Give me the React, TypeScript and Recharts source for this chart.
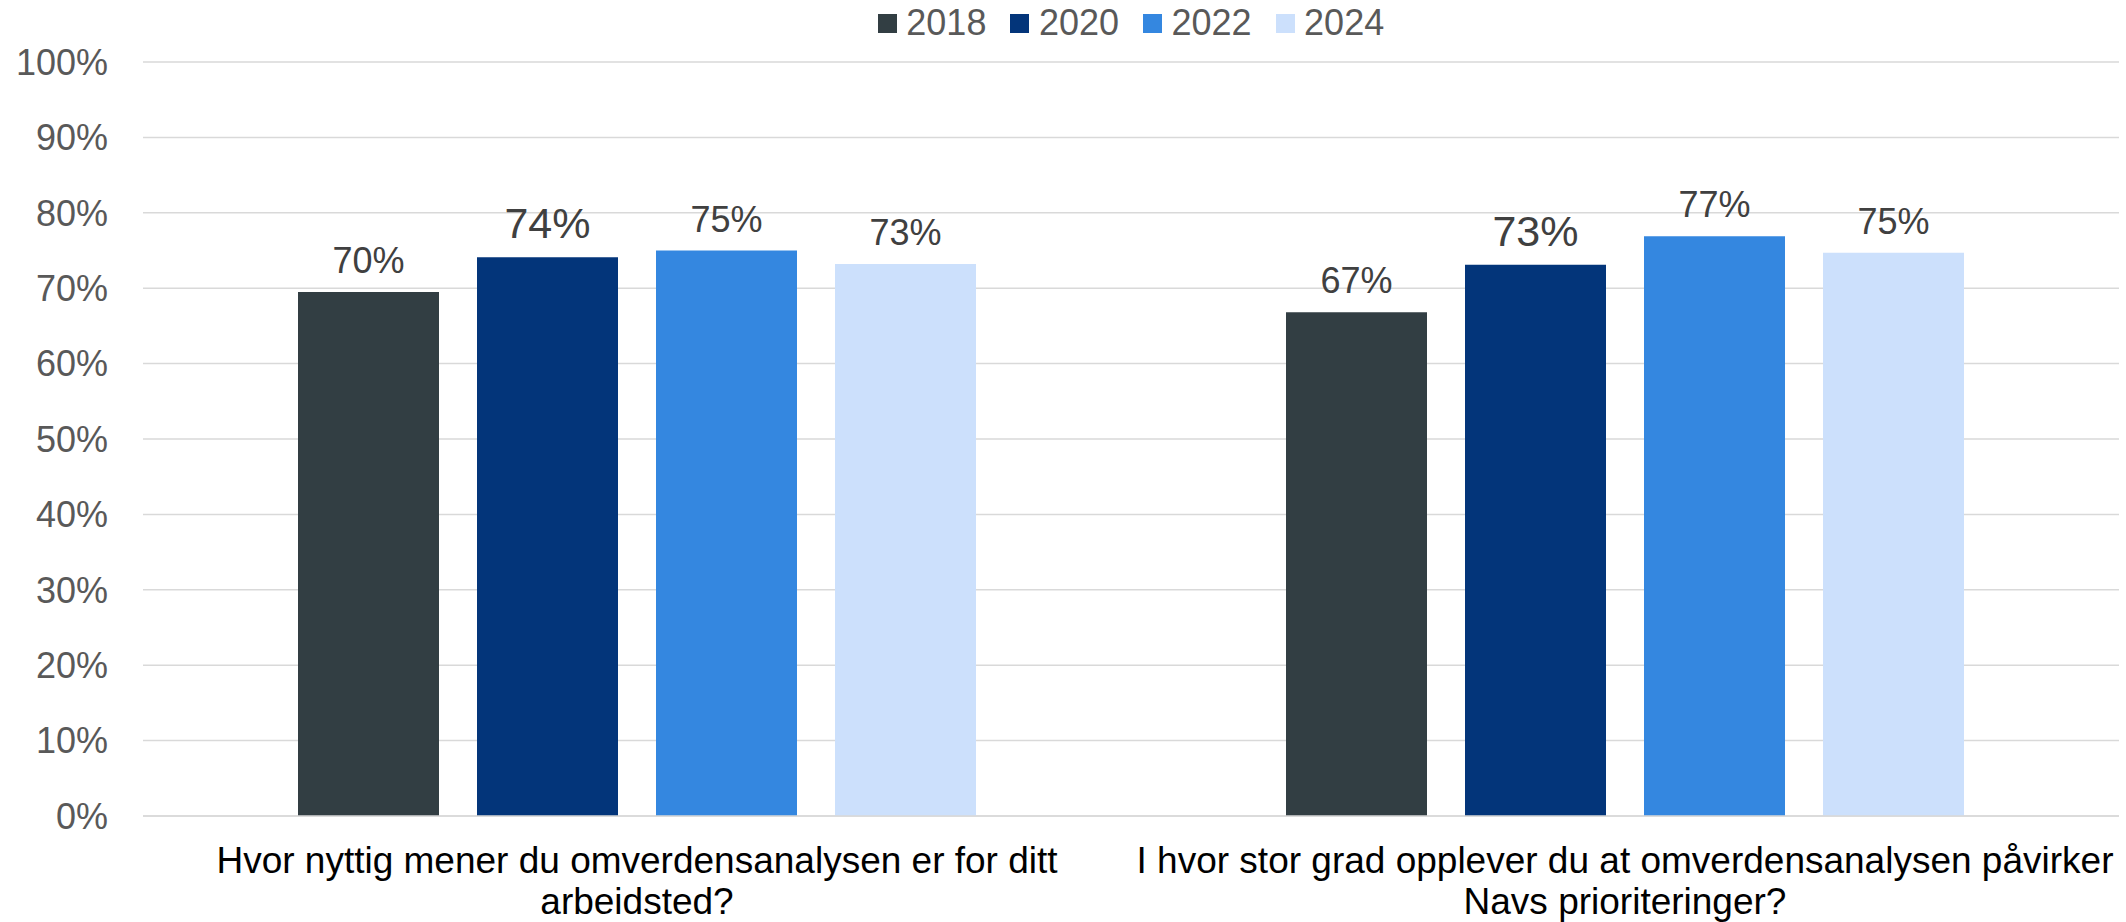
import React from 'react'
import { BarChart, Bar, XAxis, YAxis, CartesianGrid, Legend, LabelList } from 'recharts'

const categories = [
  'Hvor nyttig mener du omverdensanalysen er for ditt arbeidsted?',
  'I hvor stor grad opplever du at omverdensanalysen påvirker Navs prioriteringer?',
]
// how each category label is broken over two lines
const categoryLines = [
  ['Hvor nyttig mener du omverdensanalysen er for ditt', 'arbeidsted?'],
  ['I hvor stor grad opplever du at omverdensanalysen påvirker', 'Navs prioriteringer?'],
]

const years = ['2018', '2020', '2022', '2024']
const v2018 = [69.5, 66.8]
const v2020 = [74.1, 73.1]
const v2022 = [75.0, 76.9]
const v2024 = [73.2, 74.7]

const yTicks = [0, 10, 20, 30, 40, 50, 60, 70, 80, 90, 100]

const colors: Record<string, string> = {
  '2018': '#323e43',
  '2020': '#03357a',
  '2022': '#3487e0',
  '2024': '#cce0fc',
}
const labelSizes: Record<string, number> = { '2018': 36, '2020': 43, '2022': 36, '2024': 36 }

const data = categories.map((name, i) => ({
  name,
  '2018': v2018[i],
  '2020': v2020[i],
  '2022': v2022[i],
  '2024': v2024[i],
}))

const FONT = '"Liberation Sans", Arial, sans-serif'

function CategoryTick(props: any) {
  const { x, y, payload } = props
  const idx = categories.indexOf(payload.value)
  const lines = idx >= 0 ? categoryLines[idx] : [payload.value]
  return (
    <text x={x} y={y} textAnchor="middle" fill="#000000" fontSize={37} fontFamily={FONT}>
      {lines.map((ln: string, i: number) => (
        <tspan key={i} x={x} dy={i === 0 ? 57 : 41}>{ln}</tspan>
      ))}
    </text>
  )
}

function LegendRow() {
  return (
    <div style={{ display: 'flex', justifyContent: 'center', alignItems: 'center', fontFamily: FONT }}>
      {years.map((yr, i) => (
        <div key={yr} style={{ display: 'flex', alignItems: 'center', marginRight: i < years.length - 1 ? 24 : 0 }}>
          <div style={{ width: 19, height: 19, background: colors[yr], marginRight: 9.5 }} />
          <span style={{ fontSize: 36, lineHeight: 1, color: '#595959' }}>{yr}</span>
        </div>
      ))}
    </div>
  )
}

export default function App() {
  return (
    <div style={{ position: 'absolute', left: 0, top: 0, width: 2126, height: 922, background: '#ffffff', fontFamily: FONT }}>
      <BarChart
        width={2126}
        height={922}
        data={data}
        margin={{ top: 62, right: 7, left: 0, bottom: 0 }}
        barCategoryGap={155}
        barGap={38}
      >
        <CartesianGrid vertical={false} stroke="#d9d9d9" strokeWidth={1.5} />
        <XAxis
          dataKey="name"
          height={106}
          tickLine={false}
          tickSize={0}
          tickMargin={0}
          axisLine={{ stroke: '#d9d9d9', strokeWidth: 1.5 }}
          tick={<CategoryTick />}
          interval={0}
        />
        <YAxis
          width={143}
          domain={[0, 100]}
          ticks={yTicks}
          tickFormatter={(v: number) => `${v}%`}
          axisLine={false}
          tickLine={false}
          tickSize={0}
          tickMargin={35}
          tick={{ fill: '#595959', fontSize: 36 }}
        />
        <Legend
          verticalAlign="middle"
          layout="horizontal"
          wrapperStyle={{ top: 5, left: 143, width: 1976 }}
          content={() => <LegendRow />}
        />
        {years.map((yr) => (
          <Bar key={yr} dataKey={yr} fill={colors[yr]} isAnimationActive={false}>
            <LabelList
              dataKey={yr}
              position="top"
              offset={19}
              formatter={(v: any) => `${Math.round(Number(v))}%`}
              style={{ fill: '#404040', fontSize: labelSizes[yr] }}
            />
          </Bar>
        ))}
      </BarChart>
    </div>
  )
}
